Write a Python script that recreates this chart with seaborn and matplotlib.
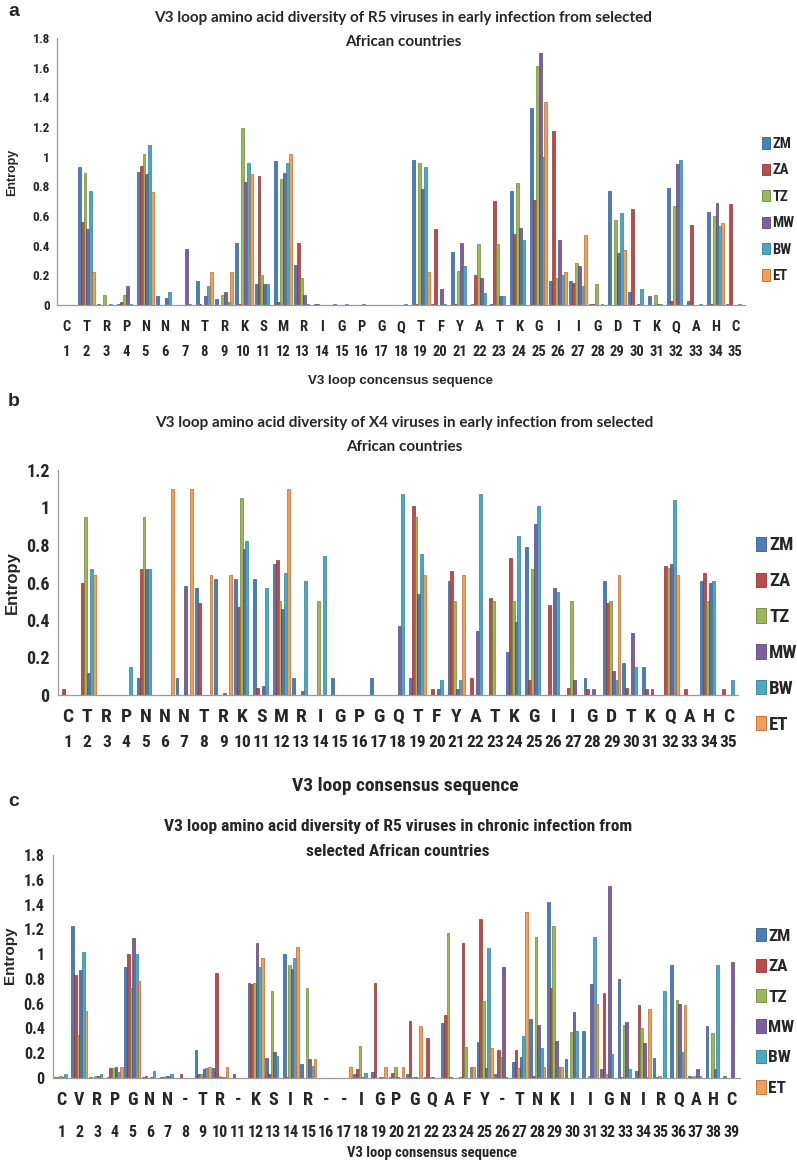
import pandas as pd
import seaborn as sns
import matplotlib.pyplot as plt
from matplotlib import font_manager
from matplotlib.patches import Patch

# ---- data -------------------------------------------------------------
countries = ["ZM", "ZA", "TZ", "MW", "BW", "ET"]

res_a = list("CTRPNNNTRKSMRIGPGQTFYATKGIIGDTKQAHC")
a_ZM = [0, 0.93, 0.01, 0.01, 0.90, 0.06, 0, 0.16, 0.04, 0.42, 0.14, 0.97, 0.27, 0.01, 0.005,
        0, 0, 0, 0.98, 0.01, 0.36, 0.01, 0.01, 0.77, 1.33, 0.16, 0.16, 0.01, 0.77, 0.09,
        0.06, 0.79, 0.03, 0.63, 0.01]
a_ZA = [0, 0.56, 0, 0.02, 0.94, 0, 0, 0.005, 0, 0.005, 0.87, 0.02, 0.42, 0.005, 0,
        0, 0, 0, 0.01, 0.51, 0.005, 0.20, 0.70, 0.48, 0.71, 1.17, 0.15, 0.01, 0, 0.65,
        0, 0.03, 0.54, 0.005, 0.68]
a_TZ = [0, 0.89, 0.07, 0.07, 1.02, 0, 0, 0, 0.07, 1.19, 0.20, 0.85, 0.18, 0, 0,
        0, 0, 0, 0.96, 0, 0.23, 0.41, 0.41, 0.82, 1.61, 0.18, 0.28, 0.14, 0.57, 0,
        0.07, 0.67, 0, 0.60, 0]
a_MW = [0, 0.51, 0, 0.13, 0.88, 0.05, 0.38, 0.06, 0.09, 0.83, 0.14, 0.89, 0.07, 0, 0,
        0.005, 0, 0, 0.78, 0.11, 0.42, 0.18, 0.06, 0.52, 1.70, 0.44, 0.26, 0, 0.35, 0.005,
        0.01, 0.95, 0, 0.69, 0]
a_BW = [0, 0.77, 0.005, 0.005, 1.08, 0.09, 0.005, 0.13, 0.02, 0.96, 0.14, 0.96, 0.01, 0, 0.005,
        0, 0, 0.01, 0.93, 0.01, 0.26, 0.08, 0.06, 0.44, 1.00, 0.20, 0.13, 0.01, 0.62, 0.11,
        0.01, 0.98, 0.01, 0.53, 0.01]
a_ET = [0, 0.22, 0, 0, 0.76, 0, 0, 0.22, 0.22, 0.88, 0, 1.02, 0, 0, 0,
        0, 0, 0, 0.22, 0, 0, 0, 0, 0, 1.37, 0.22, 0.47, 0, 0.37, 0,
        0, 0, 0, 0.55, 0]

res_b = list("CTRPNNNTRKSMRIGPGQTFYATKGIIGDTKQAHC")
b_ZM = [0, 0, 0, 0, 0.09, 0, 0.09, 0.57, 0.62, 0.62, 0.62, 0.70, 0.09, 0, 0.09,
        0, 0.09, 0, 0.09, 0, 0.61, 0, 0, 0.23, 0.79, 0, 0, 0.09, 0.61, 0.17,
        0.15, 0, 0, 0.61, 0]
b_ZA = [0.03, 0.60, 0, 0, 0.67, 0, 0, 0.49, 0, 0.47, 0.04, 0.72, 0, 0, 0,
        0, 0, 0, 1.01, 0.03, 0.66, 0.09, 0.52, 0.73, 0.08, 0.48, 0.04, 0.03, 0.49, 0.04,
        0.03, 0.69, 0.03, 0.65, 0.03]
b_TZ = [0, 0.95, 0, 0, 0.95, 0, 0, 0, 0, 1.05, 0, 0.50, 0, 0.50, 0,
        0, 0, 0, 0.95, 0, 0.50, 0, 0.50, 0.50, 0.67, 0, 0.50, 0, 0.50, 0,
        0, 0.68, 0, 0.50, 0]
b_MW = [0, 0.12, 0, 0, 0.67, 0, 0.58, 0, 0.01, 0.78, 0.05, 0.46, 0.02, 0, 0,
        0, 0, 0.37, 0.54, 0.03, 0.03, 0.34, 0, 0.39, 0.91, 0.57, 0.08, 0.03, 0.13, 0.33,
        0.03, 0.70, 0, 0.60, 0]
b_BW = [0, 0.67, 0, 0.15, 0.67, 0, 0, 0, 0, 0.82, 0.57, 0.65, 0.61, 0.74, 0,
        0, 0, 1.07, 0.75, 0.08, 0.08, 1.07, 0, 0.85, 1.01, 0.55, 0, 0, 0.08, 0.15,
        0, 1.04, 0, 0.61, 0.08]
b_ET = [0, 0.64, 0, 0, 0, 1.10, 1.10, 0.64, 0.64, 0, 0, 1.10, 0, 0, 0,
        0, 0, 0, 0.64, 0, 0.64, 0, 0, 0, 0, 0, 0, 0, 0.64, 0,
        0, 0.64, 0, 0, 0]

res_c = list("CVRPGNN-TR-KSIR--IGPGQAFY-TNKIIGNIRQAHC")
c_ZM = [0.01, 1.23, 0.01, 0.01, 0.90, 0.01, 0.01, 0, 0.23, 0.08, 0, 0.77, 0.16, 1.00, 0.11,
        0, 0, 0.03, 0.05, 0.01, 0.03, 0.005, 0.44, 0.01, 0.29, 0.03, 0.13, 0.48, 1.42, 0.15,
        0.38, 0.07, 0.80, 0.06, 0.16, 0.91, 0.02, 0.42, 0.02]
c_ZA = [0.01, 0.83, 0, 0.08, 1.00, 0.02, 0.01, 0.03, 0.03, 0.85, 0.03, 0.76, 0.03, 0.01, 0,
        0, 0, 0.07, 0.77, 0.04, 0.46, 0.32, 0.51, 1.09, 1.28, 0.23, 0.23, 0.02, 0.73, 0,
        0, 0.69, 0.01, 0.59, 0.005, 0, 0.005, 0, 0]
c_TZ = [0.02, 0.35, 0.02, 0.08, 0.73, 0, 0.02, 0, 0.03, 0.02, 0, 0.77, 0.70, 0.91, 0.73,
        0, 0, 0.26, 0, 0.09, 0.005, 0.01, 1.17, 0.25, 0.62, 0.17, 0.08, 1.14, 1.23, 0.37,
        0.02, 0.03, 0.43, 0.40, 0.02, 0.63, 0.02, 0.36, 0]
c_MW = [0.01, 0.87, 0.02, 0.09, 1.13, 0.01, 0.02, 0, 0.07, 0.01, 0, 1.09, 0.21, 0.88, 0.15,
        0, 0, 0.01, 0.01, 0.01, 0.005, 0.005, 0.005, 0, 0.08, 0.90, 0.17, 0.43, 0.30, 0.53,
        0.76, 1.55, 0.45, 0.28, 0, 0.60, 0.07, 0.07, 0.94]
c_BW = [0.03, 1.02, 0.03, 0.05, 1.00, 0.06, 0.03, 0, 0.08, 0.01, 0, 0.90, 0.18, 0.97, 0.10,
        0, 0, 0.04, 0.01, 0, 0, 0, 0, 0.09, 1.05, 0.01, 0.34, 0.24, 0.09, 0.38,
        1.14, 0.19, 0.07, 0.01, 0.70, 0.21, 0.02, 0.91, 0]
c_ET = [0, 0.54, 0, 0.09, 0.78, 0, 0, 0, 0.09, 0.09, 0, 0.97, 0, 1.06, 0.15,
        0, 0.09, 0, 0.09, 0.09, 0.42, 0, 0, 0.09, 0.24, 0, 1.34, 0.09, 0.09, 0,
        0.60, 0, 0, 0.56, 0, 0.59, 0, 0, 0]

titles = [
    ("V3 loop amino acid diversity of R5 viruses in early infection from selected", "African countries"),
    ("V3 loop amino acid diversity of X4 viruses in early infection from selected", "African countries"),
    ("V3 loop amino acid diversity of R5 viruses in chronic infection from", "selected African countries"),
]
xlabels = ["V3 loop concensus sequence", "V3 loop consensus sequence", "V3 loop consensus sequence"]

# ---- style ------------------------------------------------------------
sns.set_style("white")
installed = {f.name for f in font_manager.fontManager.ttflist}
narrow_name = next((n for n in ["Liberation Sans Narrow", "Roboto Condensed", "DejaVu Sans Condensed"]
                    if n in installed), None)
NARROW = ([narrow_name] if narrow_name else []) + ["Liberation Sans", "DejaVu Sans"]
# shrink narrow-style texts when no condensed face is available
k = 1.0 if narrow_name else 0.82
plt.rcParams["font.family"] = NARROW
plt.rcParams["font.weight"] = "bold"
SANS = ["Liberation Sans", "DejaVu Sans"]
TITLE = ["Lato", "DejaVu Sans"]

fill = ["#4A7EBB", "#BE4B48", "#98B954", "#7D60A0", "#46AAC5", "#F59D56"]
edge = ["#355E8C", "#8C3836", "#71893F", "#5C4776", "#357D91", "#B66D31"]
grid_col = "#9a9a9a"

W, H = 797, 1164
fig = plt.figure(figsize=(W / 100, H / 100), dpi=100)


def fx(px):
    return px / W


def fy(py):
    return 1 - py / H


def panel(rect, residues, series, ymax, cfg):
    ax = fig.add_axes(rect)
    n = len(residues)
    pos = list(range(1, n + 1))
    df = pd.DataFrame({"pos": pos, **dict(zip(countries, series))})
    df = df.melt(id_vars="pos", var_name="country", value_name="entropy")
    sns.barplot(data=df, x="pos", y="entropy", hue="country", hue_order=countries,
                palette=fill, width=0.9, saturation=1, errorbar=None, legend=False, ax=ax)
    for cont, ec in zip(ax.containers, edge):
        for p in cont.patches:
            p.set_edgecolor(ec)
            p.set_linewidth(0.5)

    ax.set_xlim(-0.5, n - 0.5)
    ax.set_ylim(0, ymax)
    yt = [round(v * 0.2, 1) for v in range(int(round(ymax / 0.2)) + 1)]
    ax.set_yticks(yt)
    ax.set_yticklabels([f"{v:g}" for v in yt], fontsize=cfg["ytick_fs"], fontweight="bold")
    ax.tick_params(axis="y", direction="out", length=3, color=grid_col, pad=cfg["ypad"])

    # category table under the axis
    ax.set_xticks(range(n))
    ax.set_xticklabels([])
    ax.tick_params(axis="x", which="major", length=0)
    ax.set_xticks([i - 0.5 for i in range(n + 1)], minor=True)
    ax.tick_params(axis="x", which="minor", direction="out", length=cfg["sep_len"],
                   width=0.9, color=grid_col)
    for i, (aa, num) in enumerate(zip(residues, pos)):
        ax.annotate(aa, xy=(i, 0), xycoords=("data", "axes fraction"),
                    xytext=(0, -cfg["res_off"]), textcoords="offset points",
                    ha="center", va="center", fontsize=cfg["res_fs"] * k, fontweight="bold")
        ax.annotate(str(num), xy=(i, 0), xycoords=("data", "axes fraction"),
                    xytext=(0, -cfg["num_off"]), textcoords="offset points",
                    ha="center", va="center", fontsize=cfg["num_fs"] * k, fontweight="bold")

    for side in ["top", "right"]:
        ax.spines[side].set_visible(False)
    for side in ["left", "bottom"]:
        ax.spines[side].set_color(grid_col)
        ax.spines[side].set_linewidth(0.9)
    ax.set_xlabel("")
    ax.set_ylabel("")

    handles = [Patch(facecolor=f, edgecolor=e, linewidth=0.6) for f, e in zip(fill, edge)]
    ax.legend(handles, countries, loc="center left", bbox_to_anchor=cfg["leg_xy"],
              bbox_transform=fig.transFigure, frameon=False, handlelength=0.55,
              handleheight=0.8, handletextpad=0.15, labelspacing=cfg["leg_sp"],
              borderaxespad=0, borderpad=0,
              prop={"family": NARROW, "weight": "bold", "size": cfg["leg_fs"] * (1 if narrow_name else 0.88)})
    return ax


# ---- panel a ----------------------------------------------------------
panel([fx(57), fy(305), fx(745 - 57), (305 - 38) / H], res_a,
      [a_ZM, a_ZA, a_TZ, a_MW, a_BW, a_ET], 1.8,
      dict(ytick_fs=9.5, ypad=2, sep_len=38, res_off=16, num_off=34, res_fs=10.5, num_fs=10.5,
           leg_xy=(fx(762), fy(210)), leg_sp=0.85, leg_fs=10.5))
fig.text(fx(8), fy(12), "a", fontsize=14, fontweight="bold", va="center", family=SANS)
fig.text(fx(403), fy(18), titles[0][0], ha="center", va="center", fontsize=11,
         fontweight="bold", family=TITLE)
fig.text(fx(403), fy(42), titles[0][1], ha="center", va="center", fontsize=11,
         fontweight="bold", family=TITLE)
fig.text(fx(12), fy(172), "Entropy", rotation=90, ha="center", va="center", fontsize=9,
         fontweight="bold", family=SANS)
fig.text(fx(401), fy(381), xlabels[0], ha="center", va="center", fontsize=9.5,
         fontweight="bold", family=SANS)

# ---- panel b ----------------------------------------------------------
panel([fx(58), fy(695), fx(738 - 58), (695 - 470) / H], res_b,
      [b_ZM, b_ZA, b_TZ, b_MW, b_BW, b_ET], 1.2,
      dict(ytick_fs=13, ypad=3, sep_len=50, res_off=16, num_off=34, res_fs=14, num_fs=12.5,
           leg_xy=(fx(756), fy(635)), leg_sp=0.95, leg_fs=13.5))
fig.text(fx(8), fy(402), "b", fontsize=14, fontweight="bold", va="center", family=SANS)
fig.text(fx(404), fy(423), titles[1][0], ha="center", va="center", fontsize=11,
         fontweight="bold", family=TITLE)
fig.text(fx(404), fy(447), titles[1][1], ha="center", va="center", fontsize=11,
         fontweight="bold", family=TITLE)
fig.text(fx(12), fy(583), "Entropy", rotation=90, ha="center", va="center", fontsize=12,
         fontweight="bold", family=SANS)
fig.text(fx(405), fy(786), xlabels[1], ha="center", va="center", fontsize=14 * k,
         fontweight="bold")

# ---- panel c ----------------------------------------------------------
panel([fx(53), fy(1078), fx(740 - 53), (1078 - 855) / H], res_c,
      [c_ZM, c_ZA, c_TZ, c_MW, c_BW, c_ET], 1.8,
      dict(ytick_fs=11.5, ypad=3, sep_len=45, res_off=16, num_off=39, res_fs=13, num_fs=11.5,
           leg_xy=(fx(756), fy(1012)), leg_sp=0.85, leg_fs=12.5))
fig.text(fx(8), fy(802), "c", fontsize=14, fontweight="bold", va="center", family=SANS)
fig.text(fx(398), fy(827), titles[2][0], ha="center", va="center", fontsize=12.5 * k,
         fontweight="bold")
fig.text(fx(398), fy(852), titles[2][1], ha="center", va="center", fontsize=12.5 * k,
         fontweight="bold")
fig.text(fx(10), fy(955), "Entropy", rotation=90, ha="center", va="center", fontsize=11,
         fontweight="bold", family=SANS)
fig.text(fx(432), fy(1153), xlabels[2], ha="center", va="center", fontsize=10.5 * k,
         fontweight="bold")

fig.savefig("out.png", dpi=100)
